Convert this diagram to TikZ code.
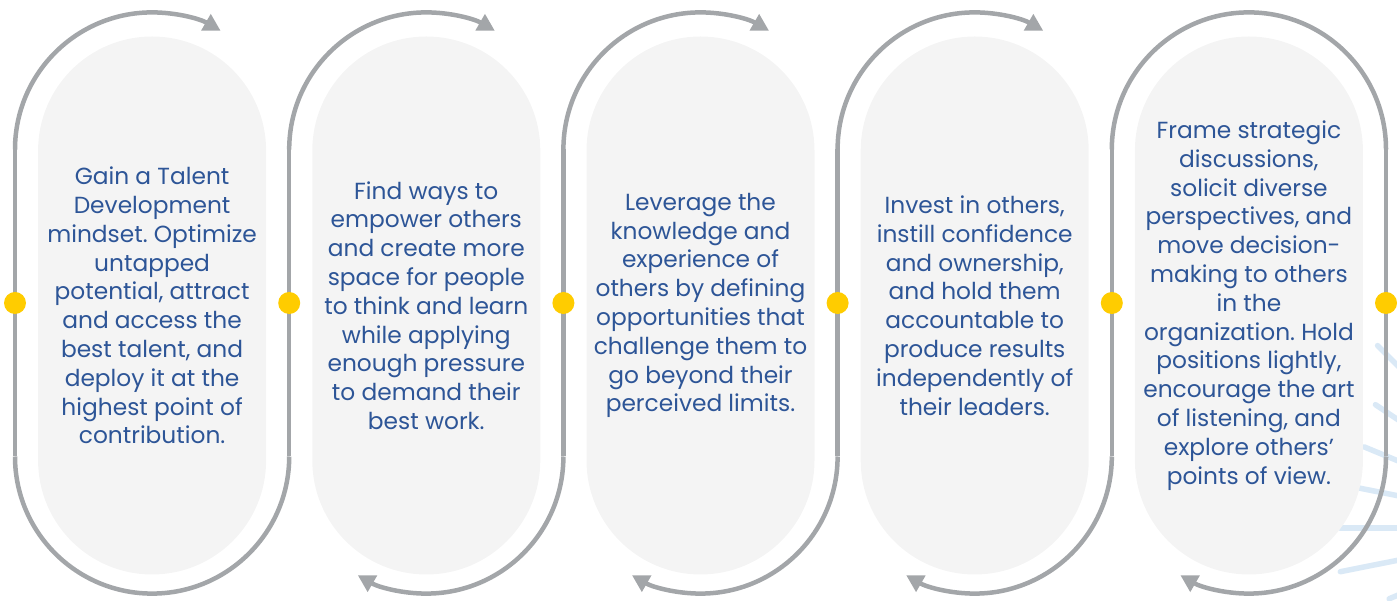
\documentclass[tikz,border=0pt]{standalone}
\usepackage{fontspec}
\setmainfont{Poppins}
\frenchspacing
\usetikzlibrary{arrows.meta}
\definecolor{ringgray}{HTML}{A3A6A9}
\definecolor{pillgray}{HTML}{F4F4F4}
\definecolor{textblue}{HTML}{2D5597}
\definecolor{dotyellow}{HTML}{FFCC00}
\definecolor{raylight}{HTML}{DAE9F6}

\begin{document}
\begin{tikzpicture}[x=1pt,y=1pt,
		pill/.style={fill=pillgray,rounded corners=114pt,minimum width=228pt,minimum height=538pt,
			inner sep=0pt,text=textblue,align=center,font=\fontsize{23.3}{28.8}\selectfont},
		ring/.style={draw=ringgray,line width=4.5pt},
		ringtip/.style={ring,-{Triangle[length=17pt,width=18pt]}},
		joint/.style={circle,fill=dotyellow,minimum size=22pt,inner sep=0pt},
		ray/.style={draw=raylight,line width=5.5pt,line cap=round}]
		\useasboundingbox (0,0) rectangle (1397,601);
		% light rays behind, bottom right
		\begin{scope}
			\clip (0,0) rectangle (1397,601);
			\draw[ray,shift={(1560,73)}] (135:60) -- (135:258);
			\draw[ray,shift={(1560,73)}] (146.25:60) -- (146.25:222);
			\draw[ray,shift={(1560,73)}] (157.5:60) -- (157.5:212);
			\draw[ray,shift={(1560,73)}] (168.75:60) -- (168.75:205);
			\draw[ray,shift={(1560,73)}] (180:60) -- (180:220);
			\draw[ray,shift={(1560,73)}] (191.25:60) -- (191.25:224);
			\draw[ray,shift={(1560,73)}] (202.5:60) -- (202.5:185);
		\end{scope}
		
		\node[pill] (p1) at (152.1,295.5) {Gain a Talent\\Development\\mindset. Optimize\\untapped\\potential, attract\\and access the\\best talent, and\\deploy it at the\\highest point of\\contribution.};
		\node[pill] (p2) at (426.3,295.5) {Find ways to\\empower others\\and create more\\space for people\\to think and learn\\while applying\\enough pressure\\to demand their\\best work.};
		\node[pill] (p3) at (700.5,295.5) {Leverage the\\knowledge and\\experience of\\others by defining\\opportunities that\\challenge them to\\go beyond their\\perceived limits.};
		\node[pill] (p4) at (974.7,295.5) {Invest in others,\\instill confidence\\and ownership,\\and hold them\\accountable to\\produce results\\independently of\\their leaders.};
		\node[pill] (p5) at (1248.9,295.5) {Frame strategic\\discussions,\\solicit diverse\\perspectives, and\\move decision-\\making to others\\in the\\organization. Hold\\positions lightly,\\encourage the art\\of listening, and\\explore others’\\points of view.};
		
		\coordinate (t0) at (15,451.5);     \coordinate (b0) at (15,144.5);
		\coordinate (t1) at (289.2,451.5);  \coordinate (b1) at (289.2,144.5);
		\coordinate (t2) at (563.4,451.5);  \coordinate (b2) at (563.4,144.5);
		\coordinate (t3) at (837.6,451.5);  \coordinate (b3) at (837.6,144.5);
		\coordinate (t4) at (1111.8,451.5); \coordinate (b4) at (1111.8,144.5);
		\coordinate (t5) at (1386,451.5);   \coordinate (b5) at (1386,144.5);
		
		\draw[ring] (b0) -- (t0) (b1) -- (t1) (b2) -- (t2) (b3) -- (t3) (b4) -- (t4) (b5) -- (t5);
		\draw[ringtip] (t0) arc[start angle=180,end angle=60,radius=137.1];
		\draw[ringtip] (t1) arc[start angle=180,end angle=60,radius=137.1];
		\draw[ringtip] (t2) arc[start angle=180,end angle=60,radius=137.1];
		\draw[ringtip] (t3) arc[start angle=180,end angle=60,radius=137.1];
		\draw[ring] (t4) arc[start angle=180,end angle=0,radius=137.1];
		\draw[ring] (b1) arc[start angle=0,end angle=-180,radius=137.1];
		\draw[ringtip] (b2) arc[start angle=0,end angle=-120,radius=137.1];
		\draw[ringtip] (b3) arc[start angle=0,end angle=-120,radius=137.1];
		\draw[ringtip] (b4) arc[start angle=0,end angle=-120,radius=137.1];
		\draw[ringtip] (b5) arc[start angle=0,end angle=-120,radius=137.1];
		
		\node[joint] (j0) at (15,298) {};
		\node[joint] (j1) at (289.2,298) {};
		\node[joint] (j2) at (563.4,298) {};
		\node[joint] (j3) at (837.6,298) {};
		\node[joint] (j4) at (1111.8,298) {};
		\node[joint] (j5) at (1386,298) {};
	\end{tikzpicture}
\end{document}
